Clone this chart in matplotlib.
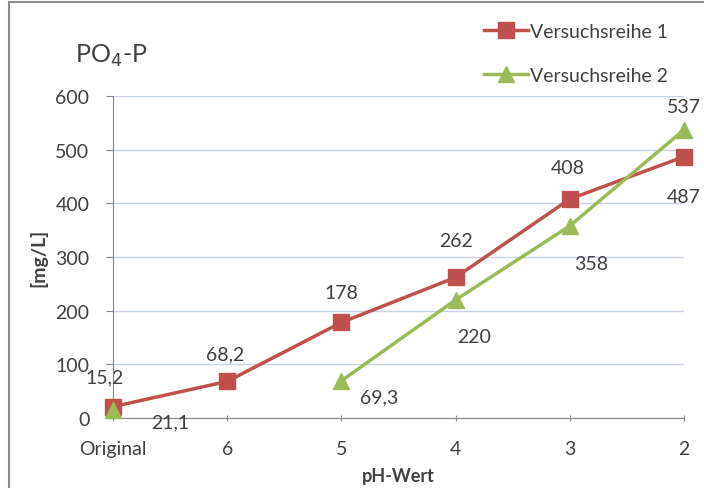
import numpy as np
import matplotlib
matplotlib.use("Agg")
from matplotlib import pyplot as plt
from matplotlib.patches import Rectangle

plt.rcParams['font.family'] = ['Lato', 'DejaVu Sans']

# data
categories = ["Original", "6", "5", "4", "3", "2"]
reihe1 = [21.1, 68.2, 178, 262, 408, 487]
reihe2 = [15.2, np.nan, 69.3, 220, 358, 537]
labels1 = ["15,2", "68,2", "178", "262", "408", "487"]
labels2 = ["21,1", "", "69,3", "220", "358", "537"]

# label offsets in pixels (dx, dy)
off1 = [(-8, 30), (-2, 28), (0, 30), (0, 37), (-2, 32), (0, -40)]
off2 = [(57, -12), (0, 0), (38, -16), (18, -37), (21, -38), (0, 23)]

red = "#C0504D"
green = "#9BBB59"
grey = "#868686"
textc = "#404040"
fs = 14

fig = plt.figure(figsize=(7.04, 4.89), dpi=100)
fig.patches.append(Rectangle((9 / 704, -0.1), 1.1, 1.1 - 3 / 489, transform=fig.transFigure,
                             fill=False, edgecolor="#8C8C8C", linewidth=1.5))

ax = fig.add_axes([113 / 704, (489 - 419) / 489, (684 - 113) / 704, (419 - 97) / 489])

x = np.arange(len(categories))
ax.plot(x, reihe1, color=red, lw=2.5, marker="s", ms=11, clip_on=False, zorder=3,
        label="Versuchsreihe 1")
ax.plot(x, reihe2, color=green, lw=2.5, marker="^", ms=12, clip_on=False, zorder=4,
        label="Versuchsreihe 2")

for i, v in enumerate(reihe1):
    ax.annotate(labels1[i], (i, v), xytext=off1[i], textcoords="offset pixels",
                ha="center", va="center", fontsize=fs, color=textc)
for i, v in enumerate(reihe2):
    if np.isnan(v):
        continue
    ax.annotate(labels2[i], (i, v), xytext=off2[i], textcoords="offset pixels",
                ha="center", va="center", fontsize=fs, color=textc)

ax.set_xlim(0, 5)
ax.set_ylim(0, 600)
ax.set_yticks(np.arange(0, 601, 100))
ax.set_xticks(x)
ax.set_xticklabels(categories)
ax.grid(axis="y", color="#C9D3E6", lw=1)
ax.set_axisbelow(True)
for s in ["top", "right"]:
    ax.spines[s].set_visible(False)
ax.spines["left"].set_color(grey)
ax.spines["bottom"].set_color(grey)
ax.tick_params(axis="y", colors=grey, labelcolor=textc, labelsize=fs, length=5, pad=12)
ax.tick_params(axis="x", colors=grey, labelcolor=textc, labelsize=fs, length=5,
               direction="inout", pad=13)

ax.set_xlabel("pH-Wert", fontsize=13, fontweight="bold", color=textc, va="center")
ax.xaxis.set_label_coords((398 - 113) / (684 - 113), -58 / 322)
ax.set_ylabel("[mg/L]", fontsize=fs, fontweight="bold", color=textc)
ax.yaxis.set_label_coords(-66 / 571, 0.5)

fig.text(75 / 704, 1 - 56 / 489, "PO$_4$-P", fontsize=18, color=textc, va="center")

ax.legend(loc="upper left", bbox_to_anchor=(466 / 704, 1 - 6 / 489),
          bbox_transform=fig.transFigure, frameon=False, fontsize=fs,
          handlelength=2.3, labelspacing=1.4, handletextpad=0.1, labelcolor=textc)

fig.savefig("out.png", dpi=100)
